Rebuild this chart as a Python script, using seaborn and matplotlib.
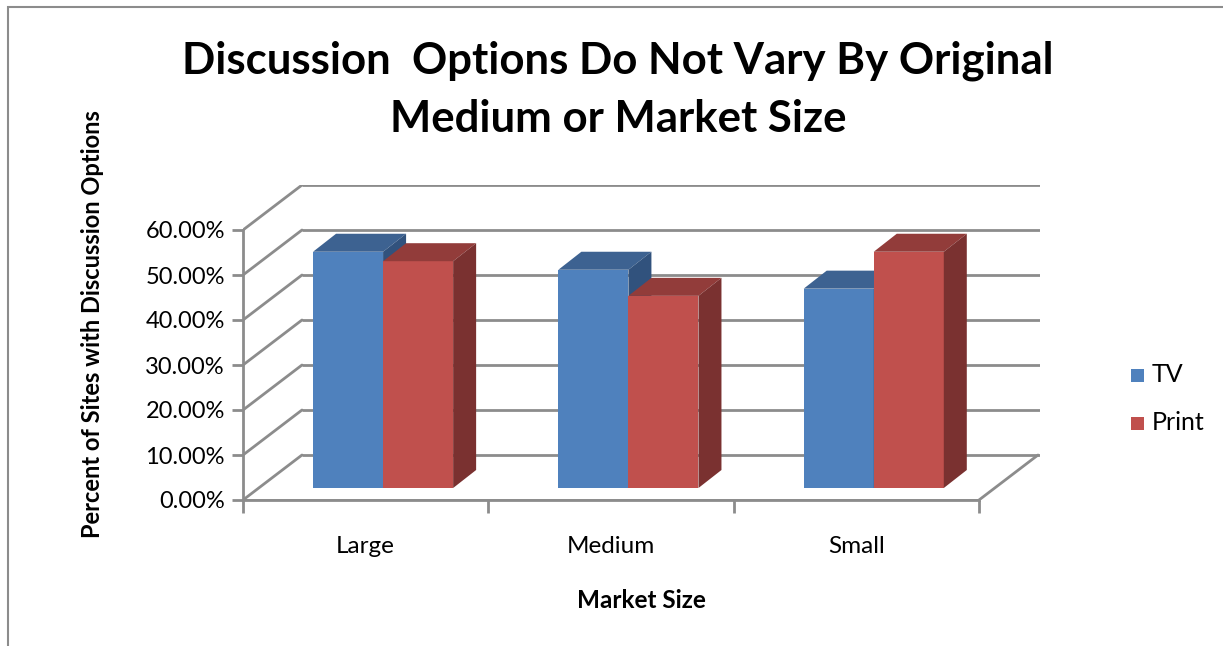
import pandas as pd
import seaborn as sns
from matplotlib import pyplot as plt
from matplotlib.patches import Polygon, Rectangle
from matplotlib.ticker import FuncFormatter

# values (percent of sites)
market_sizes = ["Large", "Medium", "Small"]
tv_pct = [52.5, 48.5, 44.3]
print_pct = [50.4, 42.7, 52.5]
series_names = ["TV", "Print"]
y_ticks = [0, 10, 20, 30, 40, 50, 60]

df = pd.DataFrame({
    "Market Size": market_sizes * 2,
    "Medium": ["TV"] * 3 + ["Print"] * 3,
    "Percent": tv_pct + print_pct,
})

sns.set_style("white")
plt.rcParams["font.family"] = ["Lato", "DejaVu Sans"]
plt.rcParams["text.color"] = "black"
plt.rcParams["xtick.labelcolor"] = "black"
plt.rcParams["ytick.labelcolor"] = "black"
plt.rcParams["axes.labelcolor"] = "black"

W, H = 1223, 646
fig = plt.figure(figsize=(W / 100, H / 100), dpi=100)

# axes in pixel terms: front axis at x=243, 0% at y=500, back wall top at y=185
ax_l, ax_b, ax_r, ax_t = 243, 500, 1040, 185
ax = fig.add_axes([ax_l / W, (H - ax_b) / H, (ax_r - ax_l) / W, (ax_b - ax_t) / H])
cat_px = (979 - 243) / 3
px_per_pct = 4.5

colors = {"TV": "#4F81BD", "Print": "#C0504D"}
tops = {"TV": "#3D6291", "Print": "#923C3A"}
sides = {"TV": "#31527D", "Print": "#7A3130"}

sns.barplot(data=df, x="Market Size", y="Percent", hue="Medium", hue_order=series_names,
            palette=colors, width=0.571, ax=ax, legend=False, saturation=1,
            errorbar=None, zorder=3)

ax.set_xlim(-0.5, -0.5 + (ax_r - ax_l) / cat_px)
ax.set_ylim(0, (ax_b - ax_t) / px_per_pct)

grid_c = "#8C8C8C"
back_dx = 59 / cat_px
back_dy = 10.0
x0, x1 = -0.5, 2.5
x_end = ax.get_xlim()[1]

# back wall gridlines and diagonals on left wall
for v in y_ticks:
    ax.plot([x0 + back_dx, x_end], [v + back_dy, v + back_dy], color=grid_c, lw=2, zorder=1,
            solid_capstyle="butt")
    ax.plot([x0, x0 + back_dx], [v, v + back_dy], color=grid_c, lw=2, zorder=1)
# floor
ax.plot([x0, x1], [0, 0], color=grid_c, lw=2, zorder=1)
ax.plot([x1, x1 + back_dx], [0, back_dy], color=grid_c, lw=2, zorder=1)

# 3d look: shift front faces back a bit and add top/side faces
shift_x = 0.071
base = 12 / px_per_pct
ddx = 23 / cat_px
ddy = 18 / px_per_pct
bars = list(ax.patches)
bars.sort(key=lambda p: p.get_x())
for i, p in enumerate(bars):
    name = "TV" if p.get_facecolor()[2] > 0.5 else "Print"
    p.set_x(p.get_x() + shift_x)
    p.set_y(base)
    p.set_zorder(3 + i * 3)
    p.set_edgecolor("none")
    bx0 = p.get_x()
    bx1 = bx0 + p.get_width()
    top = base + p.get_height()
    ax.add_patch(Polygon([(bx0, top), (bx1, top), (bx1 + ddx, top + ddy), (bx0 + ddx, top + ddy)],
                         closed=True, facecolor=tops[name], edgecolor="none", zorder=3 + i * 3 + 1))
    ax.add_patch(Polygon([(bx1, base), (bx1, top), (bx1 + ddx, top + ddy), (bx1 + ddx, base + ddy)],
                         closed=True, facecolor=sides[name], edgecolor="none", zorder=3 + i * 3 + 1))

for s in ["top", "right"]:
    ax.spines[s].set_visible(False)
ax.spines["left"].set_bounds(0, 60)
ax.spines["bottom"].set_bounds(x0, x1)
ax.spines["left"].set_color(grid_c)
ax.spines["bottom"].set_color(grid_c)
ax.spines["left"].set_linewidth(2)
ax.spines["bottom"].set_linewidth(2)

ax.set_yticks(y_ticks)
ax.yaxis.set_major_formatter(FuncFormatter(lambda v, _: f"{v:.2f}%"))
ax.tick_params(axis="y", left=True, length=8, width=2, color=grid_c, labelsize=17, pad=5,
               labelcolor="black")
ax.set_xticks([0, 1, 2])
ax.set_xticklabels(market_sizes)
ax.set_xticks([-0.5, 0.5, 1.5, 2.5], minor=True)
ax.tick_params(axis="x", which="major", length=0, labelsize=17.5, pad=26, labelcolor="black")
ax.tick_params(axis="x", which="minor", bottom=True, length=9, width=2, color=grid_c)

ax.set_xlabel("Market Size", fontsize=17.5, fontweight="bold", labelpad=23, color="black")
ax.set_ylabel("")
fig.text(93 / W, 1 - 324 / H, "Percent of Sites with Discussion Options", rotation=90,
         ha="center", va="center", fontsize=17, fontweight="bold", color="black")

fig.text(618 / W, 1 - 90 / H, "Discussion  Options Do Not Vary By Original\nMedium or Market Size",
         ha="center", va="center", fontsize=31.5, fontweight="bold", linespacing=1.55,
         color="black")

# legend
for name, yy in zip(series_names, [375, 423]):
    fig.patches.append(Rectangle((1131 / W, 1 - (yy + 7) / H), 13 / W, 13 / H,
                                 transform=fig.transFigure, facecolor=colors[name], edgecolor="none"))
    fig.text(1152 / W, 1 - yy / H, name, ha="left", va="center", fontsize=18, color="black")

# chart area border
fig.patches.append(Rectangle((8 / W, -0.1), 1.2, 1 - 7 / H + 0.1, transform=fig.transFigure,
                             facecolor="none", edgecolor="#8C8C8C", lw=1.5))

fig.savefig("out.png", dpi=100)
